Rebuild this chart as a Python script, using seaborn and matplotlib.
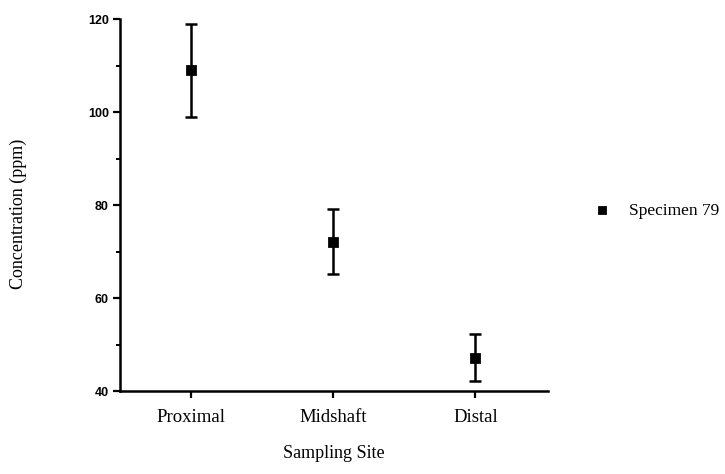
import matplotlib
matplotlib.use("Agg")
import matplotlib.pyplot as plt
import seaborn as sns
import pandas as pd
from matplotlib.ticker import MultipleLocator

sites = ["Proximal", "Midshaft", "Distal"]
means = [109.0, 72.1, 47.2]
errors = [10.0, 7.0, 5.0]
series_name = "Specimen 79"
y_ticks = [40, 60, 80, 100, 120]

sns.set_style("ticks")
plt.rcParams['font.family'] = ['Liberation Serif', 'DejaVu Serif']
plt.rcParams.update({"text.color": "black", "axes.labelcolor": "black",
                     "xtick.color": "black", "ytick.color": "black",
                     "xtick.labelcolor": "black", "ytick.labelcolor": "black"})

df = pd.DataFrame({"site": sites, "conc": means, "err": errors})
df["pos"] = range(len(sites))

fig = plt.figure(figsize=(7.25, 4.74), dpi=100)
ax = fig.add_axes([120/725, 1-391/474, (548-120)/725, (391-19)/474])

ax.errorbar(df["pos"], df["conc"], yerr=df["err"], fmt="none", ecolor="black",
            elinewidth=1.8, capsize=4.5, capthick=1.8, zorder=2)
sns.scatterplot(data=df, x="pos", y="conc", marker="s", s=50, color="black",
                edgecolor="black", label=series_name, ax=ax, zorder=3)

ax.set_xlim(-0.5, 2.51)
ax.set_ylim(40, 120)
ax.set_xticks(df["pos"])
ax.set_xticklabels(sites, fontsize=13.5, fontfamily=['Liberation Serif'])
ax.set_yticks(y_ticks)
ax.set_yticklabels([str(t) for t in y_ticks], fontsize=9, fontweight='bold',
                   fontfamily=['Liberation Sans'])
ax.yaxis.set_minor_locator(MultipleLocator(10))
ax.tick_params(axis='both', which='major', direction='out', length=5, width=1.6, color='black',
               labelcolor='black')
ax.tick_params(axis='y', which='minor', direction='out', length=3, width=1.4, color='black')
ax.tick_params(axis='x', pad=8)
ax.tick_params(axis='y', pad=3)

for side in ["top", "right"]:
    ax.spines[side].set_visible(False)
for side in ["left", "bottom"]:
    ax.spines[side].set_linewidth(1.8)
    ax.spines[side].set_color("black")

ax.set_xlabel("Sampling Site", fontsize=13, labelpad=14, color="black")
ax.set_ylabel("Concentration (ppm)", fontsize=13, color="black")
ax.yaxis.set_label_coords(-0.217, 0.476)

leg = ax.legend(loc="center left", bbox_to_anchor=(0.807, 0.555), bbox_transform=fig.transFigure,
                frameon=False, fontsize=12.5, handletextpad=0.55, markerscale=0.8,
                borderaxespad=0, borderpad=0, labelcolor="black")

fig.savefig("out.png", dpi=100)
